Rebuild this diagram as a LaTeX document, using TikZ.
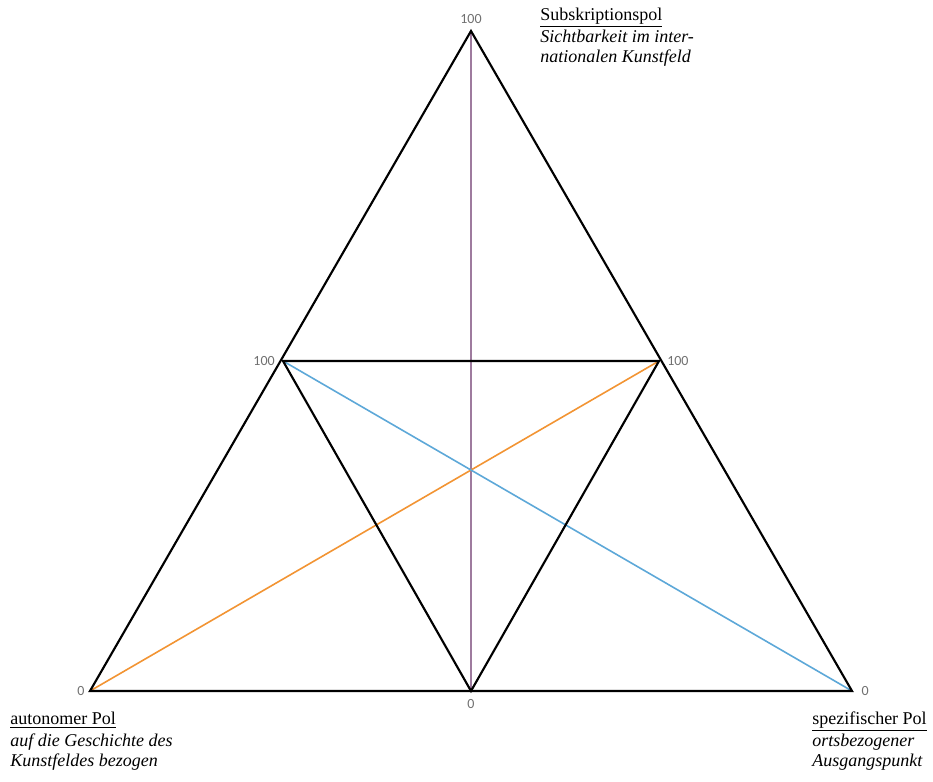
\documentclass[tikz,border=0pt]{standalone}
\usepackage{fontspec}
\setmainfont{Liberation Serif}
\newfontfamily\numfont{Carlito}
\usetikzlibrary{positioning}
\definecolor{purpleline}{HTML}{9E7B9E}
\definecolor{orangeline}{HTML}{F29433}
\definecolor{blueline}{HTML}{5DA8D8}
\definecolor{numgray}{HTML}{707070}
\tikzset{
  edge/.style={line width=1.6pt, line join=miter},
  axis/.style={line width=1.2pt},
  num/.style={font=\numfont\fontsize{10.5}{12}\selectfont, text=numgray, inner sep=1pt},
  pole/.style={font=\fontsize{13.5}{15}\selectfont, align=left, inner sep=0pt}
}
\begin{document}
\begin{tikzpicture}[x=0.75pt, y=-0.75pt]
    \useasboundingbox (0,0) rectangle (933,782);

    % corners of the triangles
    \coordinate (top) at (471,31);
    \coordinate (left) at (90,691);
    \coordinate (right) at (852,691);
    \coordinate (bottom) at (471,691);
    \coordinate (midleft) at (283,361);
    \coordinate (midright) at (659,361);

    % the three axes
    \draw[axis, purpleline] (top) -- (bottom);
    \draw[axis, orangeline] (left) -- (midright);
    \draw[axis, blueline] (midleft) -- (right);

    \draw[edge] (top) -- (left) -- (right) -- cycle;
    \draw[edge] (midleft) -- (midright) -- (bottom) -- cycle;

    % scale values
    \node[num, above=4pt of top] (ntop) {100};
    \node[num, left=5pt of midleft] (nmidleft) {100};
    \node[num, right=5pt of midright] (nmidright) {100};
    \node[num, left=3pt of left] (nleft) {0};
    \node[num, right=6pt of right] (nright) {0};
    \node[num, below=5pt of bottom] (nbottom) {0};

    % poles
    \node[pole, anchor=north west] (subskription) at (540,8)
        {\underline{Subskriptionspol}\\[1pt] \textit{Sichtbarkeit im inter-}\\ \textit{nationalen Kunstfeld}};
    \node[pole, anchor=north west] (autonom) at (10,712)
        {\underline{autonomer Pol}\\[1pt] \textit{auf die Geschichte des}\\ \textit{Kunstfeldes bezogen}};
    \node[pole, anchor=north west] (spezifisch) at (812,712)
        {\underline{spezifischer Pol}\\[1pt] \textit{ortsbezogener}\\ \textit{Ausgangspunkt}};
\end{tikzpicture}
\end{document}
